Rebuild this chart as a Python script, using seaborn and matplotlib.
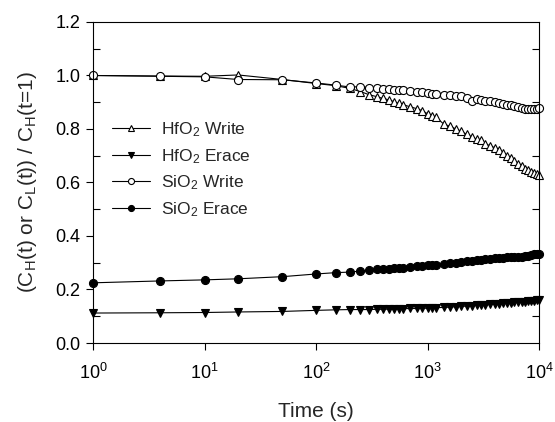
import matplotlib
matplotlib.use("Agg")
import matplotlib.pyplot as plt
import seaborn as sns
import numpy as np
import pandas as pd
from matplotlib.ticker import MultipleLocator, NullLocator, FormatStrFormatter

# ---------------- data ----------------
time_s = [1, 4, 10, 20, 50, 100, 150, 200, 250, 300, 350, 400, 450, 500, 550,
          600, 700, 800, 900, 1000, 1100, 1200, 1400, 1600, 1800, 2000, 2250,
          2500, 2750, 3000, 3300, 3600, 4000, 4400, 4800, 5200, 5600, 6000,
          6500, 7000, 7500, 8000, 8500, 9000, 9500, 10000]

hfo2_write = [1.000, 0.998, 0.997, 1.002, 0.985, 0.970, 0.962, 0.952, 0.940,
              0.928, 0.921, 0.914, 0.909, 0.902, 0.896, 0.891, 0.883, 0.876,
              0.868, 0.857, 0.850, 0.843, 0.818, 0.810, 0.800, 0.792, 0.780,
              0.770, 0.762, 0.757, 0.745, 0.738, 0.730, 0.720, 0.710, 0.700,
              0.690, 0.680, 0.668, 0.660, 0.652, 0.645, 0.638, 0.634, 0.630,
              0.627]

hfo2_erace = [0.112, 0.113, 0.114, 0.116, 0.118, 0.122, 0.124, 0.125, 0.125,
              0.125, 0.126, 0.126, 0.127, 0.127, 0.128, 0.128, 0.129, 0.129,
              0.130, 0.130, 0.131, 0.132, 0.133, 0.134, 0.136, 0.137, 0.138,
              0.139, 0.141, 0.142, 0.143, 0.144, 0.145, 0.147, 0.148, 0.150,
              0.151, 0.152, 0.153, 0.154, 0.155, 0.156, 0.157, 0.158, 0.159,
              0.161]

sio2_write = [1.000, 0.997, 0.995, 0.985, 0.984, 0.972, 0.964, 0.957, 0.958,
              0.955, 0.952, 0.950, 0.949, 0.947, 0.946, 0.945, 0.941, 0.939,
              0.937, 0.934, 0.930, 0.929, 0.927, 0.928, 0.925, 0.922, 0.914,
              0.903, 0.911, 0.910, 0.906, 0.904, 0.900, 0.898, 0.894, 0.890,
              0.891, 0.886, 0.883, 0.878, 0.875, 0.876, 0.874, 0.874, 0.876,
              0.878]

sio2_erace = [0.225, 0.232, 0.236, 0.240, 0.248, 0.258, 0.263, 0.265, 0.269,
              0.273, 0.275, 0.277, 0.278, 0.279, 0.280, 0.281, 0.284, 0.286,
              0.288, 0.291, 0.292, 0.293, 0.295, 0.298, 0.300, 0.303, 0.305,
              0.307, 0.309, 0.311, 0.313, 0.315, 0.317, 0.318, 0.319, 0.320,
              0.320, 0.321, 0.321, 0.322, 0.324, 0.327, 0.330, 0.331, 0.332,
              0.333]

series_labels = [r"HfO$_2$ Write", r"HfO$_2$ Erace", r"SiO$_2$ Write", r"SiO$_2$ Erace"]
series_values = [hfo2_write, hfo2_erace, sio2_write, sio2_erace]
series_markers = ["^", "v", "o", "o"]
series_faces = ["white", "black", "white", "black"]

y_ticks = [0.0, 0.2, 0.4, 0.6, 0.8, 1.0, 1.2]

# ---------------- style ----------------
sns.set_style("ticks")
plt.rcParams["font.family"] = ["Liberation Sans", "DejaVu Sans"]
plt.rcParams["mathtext.fontset"] = "custom"
plt.rcParams["mathtext.rm"] = "Liberation Sans"
plt.rcParams["mathtext.it"] = "Liberation Sans"
plt.rcParams["mathtext.bf"] = "Liberation Sans:bold"
plt.rcParams["axes.edgecolor"] = "black"
plt.rcParams["axes.linewidth"] = 0.8

fig, ax = plt.subplots(figsize=(5.55, 4.22), dpi=100)
fig.subplots_adjust(left=0.1676, right=0.9712, bottom=0.1872, top=0.9479)
ax.set_xscale("log")

for lab, vals, mk, fc in zip(series_labels, series_values, series_markers, series_faces):
    ms = 5.8 if mk == "o" else 6.0
    sns.lineplot(x=time_s, y=vals, ax=ax, color="black", linewidth=0.8,
                 marker=mk, markersize=ms, markerfacecolor=fc,
                 markeredgecolor="black", markeredgewidth=0.8,
                 label=lab, clip_on=False, estimator=None)

ax.set_xlim(1, 1e4)
ax.set_ylim(0, 1.2)
ax.set_yticks(y_ticks)
ax.yaxis.set_minor_locator(MultipleLocator(0.1))
ax.yaxis.set_major_formatter(FormatStrFormatter("%.1f"))
ax.xaxis.set_minor_locator(NullLocator())

ax.tick_params(axis="y", which="major", direction="out", length=5, width=0.8,
               left=True, right=False, labelsize=13, pad=4, colors="black")
ax.tick_params(axis="y", which="minor", direction="in", length=5, width=0.8,
               left=True, right=True, colors="black")
ax.tick_params(axis="x", which="major", direction="out", length=5, width=0.8,
               bottom=True, top=False, labelsize=13, pad=9, colors="black")

for s in ax.spines.values():
    s.set_visible(True)
    s.set_color("black")
    s.set_linewidth(0.8)

ax.set_xlabel("Time (s)", fontsize=15, labelpad=14)
ax.set_ylabel(r"(C$_\mathregular{H}$(t) or C$_\mathregular{L}$(t)) / C$_\mathregular{H}$(t=1)",
              fontsize=15, labelpad=12)

ax.legend(loc="upper left", bbox_to_anchor=(0.008, 0.742), frameon=False,
          fontsize=12.5, handlelength=2.2, handletextpad=0.6, labelspacing=0.45,
          markerscale=0.75)

fig.savefig("out.png", dpi=100)
